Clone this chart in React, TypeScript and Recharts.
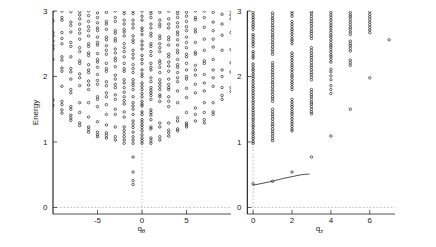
import { ScatterChart, Scatter, XAxis, YAxis, ReferenceLine } from 'recharts';

const SANS = '"Liberation Sans", Arial, sans-serif';

// left panel: q_theta columns, energies
const qTheta = [-10, -9, -8, -7, -6, -5, -4, -3, -2, -1, 0, 1, 2, 3, 4, 5, 6, 7, 8, 9, 10];
const thetaEnergies: number[][] = [
    [1.56, 1.64, 2.26, 2.42, 2.47, 2.54, 2.62, 2.67, 2.85, 3.0],
    [1.44, 1.49, 1.57, 1.62, 1.85, 2.08, 2.13, 2.25, 2.3, 2.5, 2.58, 2.67, 2.86, 2.9, 3.0],
    [1.33, 1.37, 1.41, 1.5, 1.54, 1.75, 1.8, 1.96, 2.07, 2.12, 2.3, 2.46, 2.52, 2.68, 2.78, 2.83, 2.99],
    [1.25, 1.29, 1.45, 1.6, 1.86, 1.98, 2.04, 2.2, 2.24, 2.38, 2.44, 2.57, 2.66, 2.72, 2.8, 2.88, 2.94, 2.99],
    [1.15, 1.19, 1.23, 1.38, 1.6, 1.8, 1.87, 1.93, 2.06, 2.1, 2.18, 2.32, 2.36, 2.46, 2.5, 2.62, 2.7, 2.76, 2.84, 2.93, 3.0],
    [1.08, 1.11, 1.15, 1.31, 1.54, 1.65, 1.69, 1.88, 1.94, 2.03, 2.14, 2.22, 2.26, 2.35, 2.48, 2.52, 2.6, 2.7, 2.74, 2.82, 2.9, 2.97],
    [1.06, 1.1, 1.14, 1.26, 1.42, 1.57, 1.69, 1.75, 1.86, 1.92, 2.08, 2.12, 2.2, 2.34, 2.4, 2.47, 2.56, 2.6, 2.72, 2.8, 2.84, 2.98],
    [1.03, 1.08, 1.23, 1.42, 1.5, 1.65, 1.72, 1.83, 1.88, 1.96, 2.02, 2.15, 2.24, 2.28, 2.36, 2.42, 2.54, 2.58, 2.66, 2.7, 2.84, 2.9, 3.0],
    [0.98, 1.03, 1.08, 1.13, 1.18, 1.23, 1.38, 1.46, 1.58, 1.63, 1.69, 1.76, 1.83, 1.9, 1.95, 2.08, 2.12, 2.2, 2.3, 2.38, 2.44, 2.5, 2.62, 2.68, 2.72, 2.8, 2.86, 2.96, 3.0],
    [0.35, 0.41, 0.54, 0.77, 0.98, 1.03, 1.08, 1.15, 1.22, 1.27, 1.32, 1.42, 1.5, 1.55, 1.6, 1.69, 1.8, 1.86, 1.9, 1.95, 2.06, 2.12, 2.18, 2.28, 2.34, 2.4, 2.52, 2.56, 2.62, 2.74, 2.8, 2.86, 2.96, 3.0],
    [0.98, 1.02, 1.06, 1.11, 1.17, 1.22, 1.26, 1.3, 1.34, 1.42, 1.46, 1.55, 1.58, 1.62, 1.69, 1.74, 1.8, 1.85, 1.9, 2.0, 2.04, 2.1, 2.2, 2.26, 2.32, 2.42, 2.48, 2.54, 2.64, 2.7, 2.74, 2.86, 2.92, 3.0],
    [0.98, 1.02, 1.06, 1.2, 1.23, 1.34, 1.41, 1.45, 1.49, 1.65, 1.71, 1.75, 1.79, 1.83, 1.92, 1.98, 2.1, 2.14, 2.2, 2.32, 2.38, 2.46, 2.5, 2.62, 2.66, 2.74, 2.8, 2.9, 2.96, 3.0],
    [1.03, 1.08, 1.23, 1.29, 1.62, 1.69, 1.72, 1.8, 1.85, 1.9, 1.95, 2.06, 2.14, 2.2, 2.24, 2.38, 2.44, 2.5, 2.58, 2.62, 2.76, 2.8, 2.86, 2.98],
    [1.09, 1.14, 1.18, 1.29, 1.54, 1.62, 1.69, 1.8, 1.83, 1.88, 1.96, 2.08, 2.16, 2.22, 2.3, 2.34, 2.48, 2.56, 2.6, 2.74, 2.8, 2.88, 3.0],
    [1.17, 1.2, 1.32, 1.37, 1.6, 1.78, 1.92, 1.98, 2.06, 2.14, 2.18, 2.26, 2.36, 2.4, 2.48, 2.56, 2.64, 2.68, 2.76, 2.82, 2.9, 2.96, 3.0],
    [1.23, 1.26, 1.29, 1.45, 1.68, 1.82, 1.96, 2.0, 2.1, 2.2, 2.3, 2.34, 2.44, 2.52, 2.6, 2.7, 2.76, 2.84, 2.92, 2.98],
    [1.32, 1.42, 1.52, 1.75, 1.88, 2.02, 2.1, 2.17, 2.34, 2.37, 2.52, 2.68, 2.72, 2.87, 2.9, 3.0],
    [1.29, 1.34, 1.45, 1.6, 1.78, 1.9, 2.03, 2.2, 2.24, 2.4, 2.57, 2.75, 2.9, 3.0],
    [1.42, 1.46, 1.6, 1.85, 1.98, 2.1, 2.26, 2.45, 2.57, 2.7, 2.83, 2.98],
    [1.65, 1.71, 1.83, 2.0, 2.1, 2.4, 2.63, 2.8, 2.95],
    [1.77, 1.83, 2.07, 2.21, 2.41, 2.67, 2.88, 2.94, 3.0],
];

// right panel: q_z columns
const qZ = [0, 1, 2, 3, 4, 5, 6, 7];
const zEnergies: number[][] = [
    [0.36, 0.98, 1.01, 1.05, 1.08, 1.12, 1.15, 1.19, 1.23, 1.26, 1.3, 1.34, 1.37, 1.41, 1.45, 1.48, 1.52, 1.56, 1.6, 1.63, 1.67, 1.71, 1.74, 1.78, 1.82, 1.85, 1.89, 1.93, 1.97, 2.0, 2.04, 2.08, 2.11, 2.15, 2.19, 2.28, 2.31, 2.35, 2.38, 2.46, 2.5, 2.53, 2.57, 2.61, 2.64, 2.72, 2.76, 2.79, 2.83, 2.87, 2.9, 2.94, 2.98],
    [0.4, 1.02, 1.05, 1.09, 1.13, 1.16, 1.2, 1.24, 1.27, 1.31, 1.35, 1.39, 1.42, 1.46, 1.5, 1.62, 1.66, 1.69, 1.73, 1.77, 1.8, 1.84, 1.88, 1.91, 1.95, 1.99, 2.03, 2.06, 2.1, 2.14, 2.17, 2.21, 2.34, 2.38, 2.41, 2.45, 2.49, 2.52, 2.56, 2.6, 2.63, 2.67, 2.71, 2.75, 2.78, 2.82, 2.86, 2.89, 2.93, 2.97],
    [0.54, 1.17, 1.2, 1.24, 1.28, 1.31, 1.35, 1.39, 1.43, 1.46, 1.5, 1.54, 1.57, 1.61, 1.65, 1.8, 1.84, 1.88, 1.91, 1.95, 1.99, 2.02, 2.06, 2.1, 2.14, 2.17, 2.21, 2.25, 2.29, 2.32, 2.36, 2.5, 2.54, 2.57, 2.61, 2.65, 2.69, 2.72, 2.76, 2.8, 2.84, 2.92, 2.96, 2.99],
    [0.77, 1.43, 1.46, 1.5, 1.54, 1.58, 1.61, 1.65, 1.69, 1.72, 1.76, 1.8, 1.95, 1.99, 2.03, 2.06, 2.1, 2.14, 2.17, 2.21, 2.25, 2.29, 2.32, 2.36, 2.4, 2.44, 2.58, 2.62, 2.66, 2.69, 2.73, 2.77, 2.81, 2.84, 2.88, 2.92, 2.96, 2.99],
    [1.09, 1.74, 1.8, 1.86, 1.95, 2.01, 2.07, 2.11, 2.22, 2.26, 2.3, 2.33, 2.37, 2.41, 2.45, 2.48, 2.52, 2.56, 2.6, 2.63, 2.67, 2.71, 2.75, 2.78, 2.82, 2.86, 2.9, 2.94, 2.98],
    [1.5, 2.17, 2.21, 2.25, 2.39, 2.43, 2.47, 2.5, 2.54, 2.64, 2.68, 2.72, 2.75, 2.79, 2.83, 2.87, 2.91, 2.94, 2.98],
    [1.98, 2.67, 2.71, 2.75, 2.79, 2.83, 2.87, 2.91, 2.95, 2.99],
    [2.56],
];

// lowest branch, drawn as a curve
const curveQ = [0, 0.5, 1, 1.5, 2, 2.5, 2.9];
const curveE = [0.34, 0.37, 0.4, 0.44, 0.47, 0.5, 0.51];

const thetaPoints = qTheta.flatMap((q, i) => thetaEnergies[i].map((e) => ({ q, e })));
const zPoints = qZ.flatMap((q, i) => zEnergies[i].map((e) => ({ q, e })));
const curvePoints = curveQ.map((q, i) => ({ q, e: curveE[i] }));

const Ring = (props: any) => (
    <circle cx={props.cx} cy={props.cy} r={1.25} fill="none" stroke="#1a1a1a" strokeWidth={0.65} />
);
const NoDot = () => <g />;

const tickStyle = { fontSize: 8, fill: '#222', fontFamily: SANS };
const darkAxis = { stroke: '#000', strokeWidth: 1 };
const greyAxis = { stroke: '#8a8a8a', strokeWidth: 1.5 };
const tickLine = { stroke: '#333', strokeWidth: 0.8 };
const Y_DOMAIN: [number, number] = [-0.1, 3];

function Frame({ xDomain, xTicks, yWidth, yMargin }: { xDomain: [number, number]; xTicks: number[]; yWidth: number; yMargin: number }) {
    return [
        <XAxis key="xb" dataKey="q" type="number" domain={xDomain} ticks={xTicks} interval={0} allowDataOverflow
            height={33} tickSize={-4} tickMargin={7} tick={tickStyle} axisLine={greyAxis} tickLine={tickLine} />,
        <XAxis key="xt" xAxisId="t" orientation="top" type="number" domain={xDomain} allowDataOverflow
            height={0} tick={false} tickLine={false} axisLine={darkAxis} />,
        <YAxis key="yl" dataKey="e" type="number" domain={Y_DOMAIN} ticks={[0, 1, 2, 3]} interval={0} allowDataOverflow
            width={yWidth} tickSize={-4} tickMargin={yMargin} tick={tickStyle} axisLine={darkAxis} tickLine={tickLine} />,
        <YAxis key="yr" yAxisId="r" orientation="right" type="number" domain={Y_DOMAIN} ticks={[1, 2]} interval={0} allowDataOverflow
            width={0} tickSize={-4} tick={false} axisLine={greyAxis} tickLine={tickLine} />,
    ];
}

export default function App() {
    return (
        <div style={{ position: 'absolute', left: 0, top: 0, width: 436, height: 247, background: '#fff' }}>
            <div style={{ position: 'absolute', left: 0, top: 0 }}>
                <ScatterChart width={240} height={247} margin={{ top: 11, right: 9, bottom: 0, left: 0 }}>
                    {Frame({ xDomain: [-10, 10], xTicks: [-5, 0, 5], yWidth: 53, yMargin: 9.5 })}
                    <ReferenceLine x={0} stroke="#aaa" strokeDasharray="1.5 2" strokeWidth={0.8} />
                    <ReferenceLine y={0} stroke="#aaa" strokeDasharray="1.5 2" strokeWidth={0.8} />
                    <Scatter data={thetaPoints} shape={Ring} isAnimationActive={false} />
                </ScatterChart>
            </div>
            <div style={{ position: 'absolute', left: 225, top: 0 }}>
                <ScatterChart width={211} height={247} margin={{ top: 11, right: 41, bottom: 0, left: 0 }}>
                    {Frame({ xDomain: [-0.3, 7.3], xTicks: [0, 2, 4, 6], yWidth: 22.3, yMargin: 9.8 })}
                    <ReferenceLine x={0} stroke="#aaa" strokeDasharray="1.5 2" strokeWidth={0.8} />
                    <ReferenceLine y={0} stroke="#aaa" strokeDasharray="1.5 2" strokeWidth={0.8} />
                    <Scatter data={zPoints} shape={Ring} isAnimationActive={false} />
                    <Scatter data={curvePoints} shape={NoDot} line={{ stroke: '#222', strokeWidth: 0.8 }}
                        lineJointType="monotoneX" isAnimationActive={false} />
                </ScatterChart>
            </div>
            <svg width={436} height={247} style={{ position: 'absolute', left: 0, top: 0, pointerEvents: 'none' }}>
                <text x={37.5} y={112.5} transform="rotate(-90 37.5 112.5)" textAnchor="middle"
                    fontSize={8} fill="#222" fontFamily={SANS}>Energy</text>
                <text x={141.3} y={230.5} textAnchor="middle" fontSize={8} fill="#222" fontFamily={SANS}>
                    q<tspan fontSize={6} dy={2.5}>θ</tspan>
                </text>
                <text x={319.5} y={230.5} textAnchor="middle" fontSize={8} fill="#222" fontFamily={SANS}>
                    q<tspan fontSize={6} dy={2.5}>z</tspan>
                </text>
            </svg>
        </div>
    );
}
